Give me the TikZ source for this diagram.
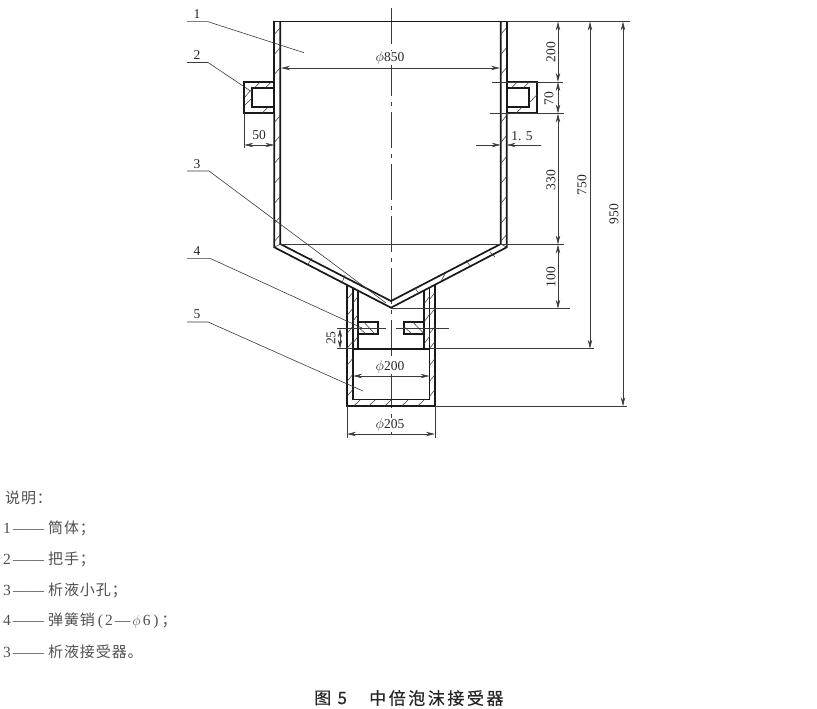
\documentclass[tikz,border=0pt]{standalone}
\usepackage{fontspec}
\setmainfont{Liberation Serif}
\usetikzlibrary{arrows.meta}
\newfontfamily\cjk{Noto Sans CJK SC}[LetterSpace=6]
\newfontfamily\capfont{Noto Sans CJK SC}[LetterSpace=15,FakeBold=0.3]
\definecolor{thinc}{HTML}{3A3A3A}
\definecolor{legc}{HTML}{505050}
\tikzset{
  thickl/.style={line width=1.7pt,black!90,line join=miter},
  thinl/.style={line width=0.6pt,thinc},
  hatchl/.style={line width=0.55pt,thinc},
  dimen/.style={line width=0.6pt,thinc,{Stealth[length=9pt,width=4.4pt]}-{Stealth[length=9pt,width=4.4pt]}},
  onearrow/.style={line width=0.6pt,thinc,-{Stealth[length=9pt,width=4.4pt]}},
  centerl/.style={line width=0.6pt,thinc,dash pattern=on 36pt off 6pt on 4pt off 6pt},
  dimtext/.style={font=\fontsize{13.5}{15}\selectfont,text=black!85,inner sep=0.5pt},
  legend/.style={anchor=west,inner sep=0pt,text=legc,font=\fontsize{15}{17}\cjk},
  capt/.style={anchor=west,inner sep=0pt,text=black!85,font=\fontsize{17}{19}\capfont}
}
\newcommand{\lnum}[1]{{\fontsize{15.5}{17}\rmfamily\makebox[10pt][l]{#1}——\hspace{4pt}}}
\begin{document}
\begin{tikzpicture}[x=1pt,y=-1pt]
\useasboundingbox (0,0) rectangle (817,709);
% center line
\draw[centerl] (391,8) -- (391,434);
% vessel
\draw[thickl] (274.3,82) -- (274.3,21.5) -- (506.7,21.5) -- (506.7,82);
\draw[thickl] (280.3,21.5) -- (280.3,244) -- (391,301) -- (500.7,244) -- (500.7,21.5);
\draw[thickl] (274.3,113) -- (274.3,247.3) -- (391,307.7) -- (506.7,247.3) -- (506.7,113);
\draw[thinl] (274.3,247.3) -- (280.3,244) (506.7,247.3) -- (500.7,244);
% handles
\draw[thickl] (274.3,82.3) -- (244.3,82.3) -- (244.3,113.3) -- (274.3,113.3);
\draw[thickl] (274.3,88.3) -- (252,88.3) -- (252,107.3) -- (274.3,107.3);
\draw[thickl] (274.3,82.3) -- (274.3,113.3);
\draw[thickl] (506.7,82.3) -- (536.7,82.3) -- (536.7,113.3) -- (506.7,113.3);
\draw[thickl] (506.7,88.3) -- (528.7,88.3) -- (528.7,107.3) -- (506.7,107.3);
\draw[thickl] (506.7,82.3) -- (506.7,113.3);
% lower tube
\draw[thickl] (347,285) -- (347,406.3) -- (435,406.3) -- (435,285);
\draw[thickl] (352.7,288) -- (352.7,399.5) -- (429.5,399.5) -- (429.5,288);
\draw[thickl] (358,290.6) -- (358,348.7) -- (424.3,348.7) -- (424.3,290.6);
\draw[thickl] (352.7,348.7) -- (429.5,348.7);
% pins
\draw[thickl] (358,322.3) rectangle (377.7,334);
\draw[thickl] (404.3,322.3) rectangle (424.3,334);
% hatching
\foreach \yy in {31,51,71,119,139,160,180,200,220,238}{
  \draw[hatchl] (274.3,\yy+3.5) -- (280.3,\yy-3.5);
  \draw[hatchl] (500.7,\yy+3.5) -- (506.7,\yy-3.5);
}
\foreach \yy in {296,312,330,345,362,378,393}{
  \draw[hatchl] (347,\yy+3.5) -- (352.7,\yy-3.5);
  \draw[hatchl] (429.5,\yy+3.5) -- (435,\yy-3.5);
}
\foreach \yy in {300,318,340}{
  \draw[hatchl] (424.3,\yy+3.5) -- (429.5,\yy-3.5);
  \draw[hatchl] (352.7,\yy+3.5) -- (358,\yy-3.5);
}
\foreach \xx in {357,372,388,405,421}{
  \draw[hatchl] (\xx-3.5,406.3) -- (\xx+3.5,399.5);
}
% handle hatching
\draw[hatchl] (254,88.3) -- (260,82.3) (265,88.3) -- (271,82.3);
\draw[hatchl] (245,105) -- (252,98) (245,97) -- (250,91);
\draw[hatchl] (262,113.3) -- (268,107.3);
\draw[hatchl] (511,88.3) -- (517,82.3) (523,88.3) -- (529,82.3);
\draw[hatchl] (529,103) -- (536.7,95) ;
\draw[hatchl] (516,113.3) -- (522,107.3);
% cone hatching
\draw[hatchl] (308,264) -- (312,258) (342,283) -- (345,275);
\draw[hatchl] (445,274) -- (441,281) (470,266) -- (466,260) (490,252) -- (495,257) (415,288) -- (419,294);
% pin hatching
\draw[hatchl] (358,327) -- (366,334) (364,322.3) -- (375,334);
\draw[hatchl] (404.3,327) -- (412,334) (413,322.3) -- (424.3,334);
% extension lines
\draw[thinl] (506.7,21) -- (630,21);
\draw[thinl] (492,82) -- (563,82);
\draw[thinl] (490,113.5) -- (564,113.5);
\draw[thinl] (280.3,244.5) -- (564,244.5);
\draw[thinl] (391,308.7) -- (570,308.7);
\draw[thinl] (429.5,348.7) -- (594,348.7);
\draw[thinl] (435,406.3) -- (627,406.3);
\draw[thinl] (244.3,113) -- (244.3,148);
\draw[thinl] (347,406) -- (347,438) (435,406) -- (435,438);
\draw[thinl] (337,328.5) -- (358,328.5) (337,348.7) -- (352.7,348.7);
\draw[thinl] (358,328.5) -- (386,328.5) (396,328.5) -- (449,328.5);
% dimensions
\draw[dimen] (281,68) -- (500,68);
\draw[dimen] (558,21.5) -- (558,82);
\draw[dimen] (558,82) -- (558,113.5);
\draw[dimen] (558,113.5) -- (558,244.5);
\draw[dimen] (558,244.5) -- (558,308.7);
\draw[dimen] (590,21.5) -- (590,348.7);
\draw[dimen] (623,21.5) -- (623,406.3);
\draw[dimen] (244.3,145) -- (274.3,145);
\draw[onearrow] (476,145) -- (500.7,145);
\draw[onearrow] (541,145) -- (506.7,145);
\draw[dimen] (353,376) -- (429.5,376);
\draw[dimen] (347,434) -- (435,434);
\draw[dimen] (340,328.5) -- (340,348.7);
% leaders
\draw[thinl] (187,21.7) -- (208,21.7) -- (304,52.7);
\draw[thinl] (187,62.5) -- (208,62.5) -- (252,92);
\draw[thinl] (187,171) -- (209,171) -- (386,303);
\draw[thinl] (187,258.3) -- (210,258.3) -- (362,328);
\draw[thinl] (187,322) -- (208,322) -- (363,391);
% labels
\node[dimtext] (n1) at (197,14) {1};
\node[dimtext] (n2) at (197,55) {2};
\node[dimtext] (n3) at (197,164) {3};
\node[dimtext] (n4) at (197,251) {4};
\node[dimtext] (n5) at (197,314) {5};
\node[dimtext,fill=white] (d850) at (390,58) {$\phi$850};
\node[dimtext,fill=white] (d200) at (390,367) {$\phi$200};
\node[dimtext,fill=white] (d205) at (390,425) {$\phi$205};
\node[dimtext] (d50) at (259,135) {50};
\node[dimtext] (d15) at (522,136) {1. 5};
\node[dimtext,rotate=90] (v200) at (551,52) {200};
\node[dimtext,rotate=90] (v70) at (549,99) {70};
\node[dimtext,rotate=90] (v330) at (551,180) {330};
\node[dimtext,rotate=90] (v100) at (551,277) {100};
\node[dimtext,rotate=90] (v750) at (582,185) {750};
\node[dimtext,rotate=90] (v950) at (614,214) {950};
\node[dimtext,rotate=90] (v25) at (331,338) {25};
% legend
\node[legend] (l0) at (5,498) {说明：};
\node[legend] (l1) at (3,528) {\lnum{1}筒体；};
\node[legend] (l2) at (3,559) {\lnum{2}把手；};
\node[legend] (l3) at (3,590) {\lnum{3}析液小孔；};
\node[legend] (l4) at (3,621) {\lnum{4}弹簧销{\fontsize{15.5}{17}\rmfamily\hspace{3pt}(\hspace{2pt}2\hspace{2pt}—\hspace{2pt}$\phi$\hspace{2pt}6\hspace{3pt})\hspace{3pt}}；};
\node[legend] (l5) at (3,652) {\lnum{3}析液接受器。};
% caption
\node[capt] (c1) at (314,698) {图 5};
\node[capt] (c2) at (369,698) {中倍泡沫接受器};
\end{tikzpicture}
\end{document}
